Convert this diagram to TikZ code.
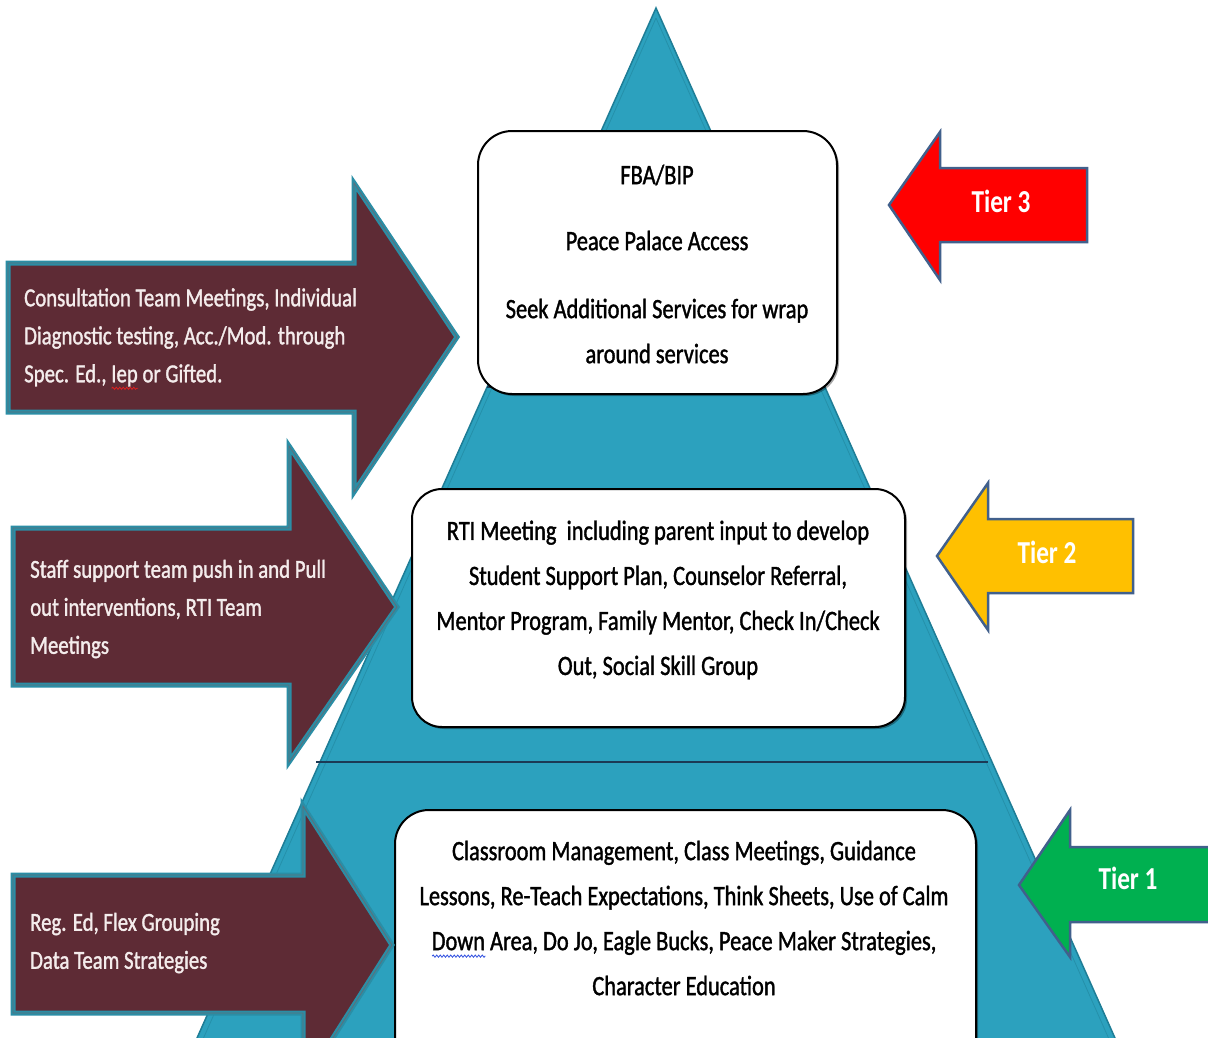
\documentclass[tikz,border=0pt]{standalone}
\usepackage{fontspec}
\setmainfont{Carlito}[FakeStretch=0.79]
\newfontfamily\bodyfont{Carlito}[FakeStretch=0.80,FakeBold=1.3]
\usetikzlibrary{shadows,decorations.pathmorphing}
\definecolor{pyr}{HTML}{2CA1BE}
\definecolor{pyrdark}{HTML}{1E7D96}
\definecolor{pyrinner}{HTML}{2590AA}
\definecolor{sepcol}{HTML}{1B3A55}
\definecolor{arrmaroon}{HTML}{5E2B35}
\definecolor{arrteal}{HTML}{2A8EA6}
\definecolor{arrgray}{HTML}{5D6F7A}
\definecolor{tred}{HTML}{FF0000}
\definecolor{tyel}{HTML}{FFC000}
\definecolor{tgreen}{HTML}{00B050}
\definecolor{tborder}{HTML}{41608C}
\definecolor{wavered}{HTML}{E02020}
\definecolor{waveblue}{HTML}{3050E0}
\definecolor{arrtextcol}{HTML}{F4ECEC}
\newdimen\wavewd
\newcommand\wavyul[2]{\settowidth\wavewd{#2}\rlap{\tikz[baseline=0pt,x=1pt,y=1pt]{\draw[#1,line width=0.8pt,decorate,decoration={snake,amplitude=1.1pt,segment length=3.5pt}] (0pt,-6pt) -- (\wavewd,-6pt);}}#2}
\begin{document}
\begin{tikzpicture}[x=1pt,y=-1pt,
  pyrfill/.style={fill=pyr,draw=pyrdark,line width=1.5pt,line join=miter},
  pyrin/.style={draw=pyrinner,line width=0.8pt},
  sepline/.style={draw=sepcol,line width=1.6pt},
  tbox/.style={draw=black,line width=2pt,fill=white,rounded corners=34pt,inner sep=0pt,
    drop shadow={shadow xshift=2pt,shadow yshift=-2pt,fill=black,opacity=.35}},
  marrow/.style={fill=arrmaroon,draw=arrteal,line width=5pt,line join=miter},
  mline/.style={draw=arrgray,line width=0.8pt,line join=miter},
  tarrow/.style={draw=tborder,line width=2.5pt,line join=miter},
  boxtext/.style={font=\bodyfont\fontsize{28}{45}\selectfont,align=center,text=black,inner sep=0pt},
  arrtext/.style={font=\bodyfont\fontsize{26}{38}\selectfont,align=left,text=arrtextcol,inner sep=0pt,anchor=west},
  tiertext/.style={font=\fontsize{32}{36}\selectfont\bfseries,text=white,inner sep=0pt}]
\useasboundingbox (0,0) rectangle (1208,1037);
\fill[white] (0,0) rectangle (1208,1037);
\clip (0,0) rectangle (1208,1037);

% pyramid
\path[pyrfill] (656,8) -- (1142.6,1100) -- (169.4,1100) -- cycle;
\draw[pyrin] (656,18) -- (1136,1100);
\draw[pyrin] (656,18) -- (176,1100);
\draw[sepline] (487,387) -- (825,387);
\draw[sepline] (316,762) -- (988,762);

% tier boxes
\node[tbox,minimum width=359pt,minimum height=263pt] (box3) at (657.5,262.5) {};
\node[tbox,minimum width=493pt,minimum height=238pt,rounded corners=30pt] (box2) at (658.5,608) {};
\node[tbox,minimum width=581pt,minimum height=300pt] (box1) at (685.5,960) {};

\node[boxtext] (box3text) at (657,264) {FBA/BIP\\[21pt]Peace Palace Access\\[23pt]Seek Additional Services for wrap\\around services};
\node[boxtext] (box2text) at (658,600) {RTI Meeting\ \ including parent input to develop\\Student Support Plan, Counselor Referral,\\Mentor Program, Family Mentor, Check In/Check\\Out, Social Skill Group};
\node[boxtext] (box1text) at (684,918) {Classroom Management, Class Meetings, Guidance\\Lessons, Re-Teach Expectations, Think Sheets, Use of Calm\\\wavyul{waveblue}{Down} Area, Do Jo, Eagle Bucks, Peace Maker Strategies,\\Character Education};

% maroon arrows
\foreach \x/\yt/\yb/\xh/\ht/\hb/\xt/\yc in {8/263/412/354/183/492/457/337, 13/528/685/289/446/762/397/607, 13/875/1013/303/806/1085/392/945}{
  \path[marrow] (\x,\yt) -- (\xh,\yt) -- (\xh,\ht) -- (\xt,\yc) -- (\xh,\hb) -- (\xh,\yb) -- (\x,\yb) -- cycle;
  \path[mline] (\x,\yt) -- (\xh,\yt) -- (\xh,\ht) -- (\xt,\yc) -- (\xh,\hb) -- (\xh,\yb) -- (\x,\yb) -- cycle;
}
\node[arrtext] (arr3text) at (24,339) {Consultation Team Meetings, Individual\\Diagnostic testing, Acc./Mod. through\\Spec. Ed., \wavyul{wavered}{Iep} or Gifted.};
\node[arrtext] (arr2text) at (30,609) {Staff support team push in and Pull\\out interventions, RTI Team\\Meetings};
\node[arrtext] (arr1text) at (30,943) {Reg. Ed, Flex Grouping\\Data Team Strategies};

% tier arrows
\path[tarrow,fill=tred] (889,205) -- (940,132) -- (940,168) -- (1087,168) -- (1087,242) -- (940,242) -- (940,280) -- cycle;
\path[tarrow,fill=tyel] (937,556) -- (988,483) -- (988,519) -- (1133,519) -- (1133,593) -- (988,593) -- (988,630) -- cycle;
\path[tarrow,fill=tgreen] (1019,885) -- (1070,810) -- (1070,847) -- (1240,847) -- (1240,922) -- (1070,922) -- (1070,957) -- cycle;
\node[tiertext] (tier3) at (1001,201) {Tier 3};
\node[tiertext] (tier2) at (1047,552) {Tier 2};
\node[tiertext] (tier1) at (1128,878) {Tier 1};
\end{tikzpicture}
\end{document}
